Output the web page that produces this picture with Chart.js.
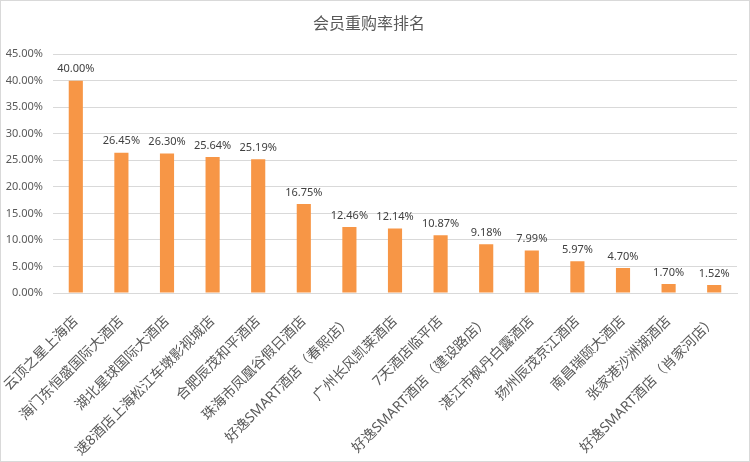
<!DOCTYPE html>
<html>
<head>
<meta charset="utf-8">
<script src="https://cdn.jsdelivr.net/npm/chart.js@4"></script>
<style>
  html, body { margin: 0; padding: 0; background: #fff; }
  #wrap { width: 750px; height: 462px; box-sizing: border-box; border: 1px solid #d9d9d9; }
  canvas { display: block; }
</style>
</head>
<body>
<div id="wrap"><canvas id="rateChart" width="748" height="460"></canvas></div>
<script>
const hotels = [
    '云顶之星上海店', '海门东恒盛国际大酒店', '湖北星球国际大酒店', '速8酒店上海松江车墩影视城店',
    '合肥辰茂和平酒店', '珠海市凤凰谷假日酒店', '好逸SMART酒店（春熙店）', '广州长风凯莱酒店',
    '7天酒店临平店', '好逸SMART酒店（建设路店）', '湛江市枫丹白露酒店', '扬州辰茂京江酒店',
    '南昌瑞颐大酒店', '张家港沙洲湖酒店', '好逸SMART酒店（肖家河店）'
];
const repurchaseRate = [40.00, 26.45, 26.30, 25.64, 25.19, 16.75, 12.46, 12.14, 10.87, 9.18, 7.99, 5.97, 4.70, 1.70, 1.52];
const yTicks = [0, 5, 10, 15, 20, 25, 30, 35, 40, 45];

const fontFamily = "'Noto Sans', 'Noto Sans CJK SC', sans-serif";

// labels above each bar
const valueLabels = {
    id: 'valueLabels',
    afterDatasetsDraw(chart) {
        const ctx = chart.ctx;
        const meta = chart.getDatasetMeta(0);
        ctx.save();
        ctx.font = '11px ' + fontFamily;
        ctx.fillStyle = '#404040';
        ctx.textAlign = 'center';
        ctx.textBaseline = 'bottom';
        meta.data.forEach((bar, i) => {
            ctx.fillText(repurchaseRate[i].toFixed(2) + '%', bar.x, bar.y - 6);
        });
        ctx.restore();
    }
};

const rateCtx = document.getElementById('rateChart');
new Chart(rateCtx.getContext('2d'), {
    type: 'bar',
    data: {
        labels: hotels,
        datasets: [{
            label: '会员重购率',
            data: repurchaseRate,
            backgroundColor: '#F79646',
            categoryPercentage: 1,
            barPercentage: 0.31
        }]
    },
    options: {
        responsive: false,
        animation: false,
        layout: { padding: { left: 0, right: 12, top: 0, bottom: 0 } },
        plugins: {
            legend: { display: false },
            tooltip: { enabled: false },
            title: {
                display: true,
                text: '会员重购率排名',
                color: '#595959',
                font: { family: fontFamily, size: 16, weight: 'normal' },
                padding: { top: 14, bottom: 20 }
            }
        },
        scales: {
            x: {
                grid: { display: false },
                border: { color: '#d9d9d9' },
                ticks: {
                    color: '#595959',
                    font: { family: fontFamily, size: 14 },
                    minRotation: 45,
                    maxRotation: 45,
                    autoSkip: false,
                    padding: 12
                },
                afterFit: s => { s.height = 168; s.paddingLeft = 0; s.paddingRight = 0; }
            },
            y: {
                min: 0,
                max: 45,
                afterBuildTicks: s => { s.ticks = yTicks.map(v => ({ value: v })); },
                grid: { color: '#d9d9d9', drawTicks: false },
                border: { display: false },
                ticks: {
                    color: '#595959',
                    font: { family: fontFamily, size: 11 },
                    padding: 10,
                    callback: v => v.toFixed(2) + '%'
                },
                afterFit: s => { s.width = 52; }
            }
        }
    },
    plugins: [valueLabels]
});
</script>
</body>
</html>
